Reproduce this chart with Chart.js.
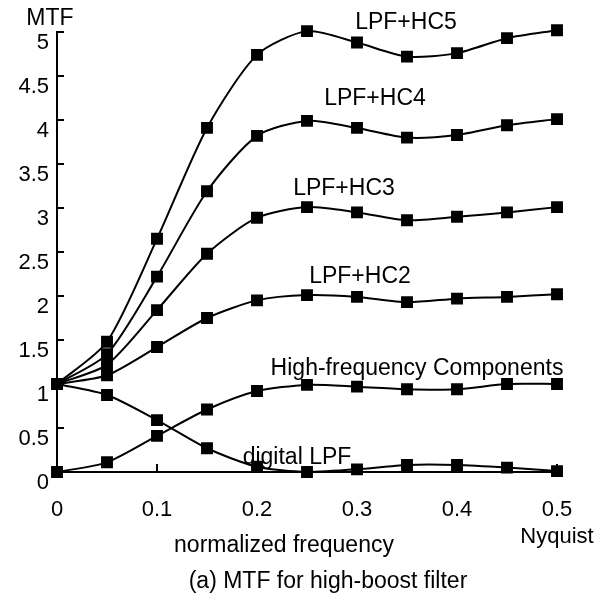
<!DOCTYPE html>
<html>
<head>
<meta charset="utf-8">
<script src="https://cdn.jsdelivr.net/npm/chart.js@4"></script>
<style>
  html, body { margin: 0; padding: 0; background: #fff; }
</style>
</head>
<body>
<canvas id="mtf" width="613" height="602"></canvas>
<script>
// normalized frequency (0.5 = Nyquist)
const freq = [0, 0.05, 0.1, 0.15, 0.2, 0.25, 0.3, 0.35, 0.4, 0.45, 0.5];

// MTF values
const hc5 = [1.0, 1.48, 2.65, 3.91, 4.74, 5.01, 4.88, 4.72, 4.76, 4.93, 5.02];
const hc4 = [1.0, 1.34, 2.22, 3.19, 3.82, 3.99, 3.91, 3.80, 3.83, 3.94, 4.01];
const hc3 = [1.0, 1.22, 1.84, 2.48, 2.89, 3.01, 2.95, 2.86, 2.90, 2.95, 3.01];
const hc2 = [1.0, 1.10, 1.42, 1.75, 1.95, 2.01, 1.99, 1.93, 1.97, 1.99, 2.02];
const highFreq = [0.0, 0.11, 0.41, 0.71, 0.92, 0.99, 0.97, 0.94, 0.94, 1.0, 1.0];
const digitalLPF = [1.0, 0.875, 0.59, 0.27, 0.06, 0.0, 0.03, 0.08, 0.08, 0.05, 0.01];

const seriesNames = ['LPF+HC5', 'LPF+HC4', 'LPF+HC3', 'LPF+HC2', 'High-frequency Components', 'digital LPF'];
const seriesValues = [hc5, hc4, hc3, hc2, highFreq, digitalLPF];

// where each curve's name sits, in data units (x, y)
const nameAnchors = [[0.349, 5.11], [0.318, 4.24], [0.287, 3.22], [0.303, 2.22], [0.36, 1.18], [0.24, 0.16]];

const FONT = '"Liberation Sans", Arial, Helvetica, sans-serif';

const decorations = {
  id: 'decorations',
  afterDraw(chart) {
    const { ctx, scales: { x, y } } = chart;
    ctx.save();
    ctx.strokeStyle = '#000';
    ctx.lineWidth = 2;
    // tick marks point into the plot
    y.ticks.forEach(t => {
      const py = Math.round(y.getPixelForValue(t.value));
      ctx.beginPath(); ctx.moveTo(x.left, py); ctx.lineTo(x.left + 7, py); ctx.stroke();
    });
    x.ticks.forEach(t => {
      const px = Math.round(x.getPixelForValue(t.value));
      ctx.beginPath(); ctx.moveTo(px, y.bottom); ctx.lineTo(px, y.bottom - 8); ctx.stroke();
    });

    ctx.fillStyle = '#000';
    ctx.font = '23px ' + FONT;
    ctx.textAlign = 'center';
    ctx.textBaseline = 'middle';
    seriesNames.forEach((name, i) => {
      const [vx, vy] = nameAnchors[i];
      ctx.fillText(name, x.getPixelForValue(vx), y.getPixelForValue(vy));
    });
    ctx.fillText('MTF', 50, 19);
    ctx.fillText('normalized frequency', 284, 546);
    ctx.fillText('(a) MTF for high-boost filter', 328, 582);
    ctx.restore();
  }
};

const lineStyle = {
  borderColor: '#000',
  backgroundColor: '#000',
  borderWidth: 2,
  pointStyle: 'rect',
  pointRadius: 7,
  pointHoverRadius: 7,
  tension: 0.25,
  fill: false,
  clip: false
};

new Chart(document.getElementById('mtf'), {
  type: 'line',
  data: {
    datasets: seriesValues.map((vals, i) => ({
      label: seriesNames[i],
      data: freq.map((f, j) => ({ x: f, y: vals[j] })),
      ...lineStyle
    }))
  },
  options: {
    responsive: false,
    animation: false,
    devicePixelRatio: 1,
    layout: { padding: { top: 32, right: 56, left: 0, bottom: 0 } },
    plugins: { legend: { display: false }, tooltip: { enabled: false } },
    scales: {
      x: {
        type: 'linear',
        min: 0, max: 0.5,
        grid: { display: false, drawTicks: false },
        border: { display: true, color: '#000', width: 2 },
        ticks: {
          stepSize: 0.1,
          color: '#000',
          padding: 24,
          maxRotation: 0,
          font: { family: FONT, size: 22, lineHeight: 1.25 },
          callback: v => Math.abs(v - 0.5) < 1e-9 ? ['0.5', 'Nyquist'] : String(Math.round(v * 10) / 10)
        },
        afterFit(scale) { scale.height = 130; scale.paddingLeft = 0; scale.paddingRight = 0; }
      },
      y: {
        min: 0, max: 5,
        grid: { display: false, drawTicks: false },
        border: { display: true, color: '#000', width: 2 },
        ticks: {
          stepSize: 0.5,
          color: '#000',
          padding: 8,
          labelOffset: 11,
          font: { family: FONT, size: 22 },
          callback: v => String(Math.round(v * 10) / 10)
        },
        afterFit(scale) { scale.width = 57; scale.paddingTop = 0; scale.paddingBottom = 0; }
      }
    }
  },
  plugins: [decorations]
});
</script>
</body>
</html>
